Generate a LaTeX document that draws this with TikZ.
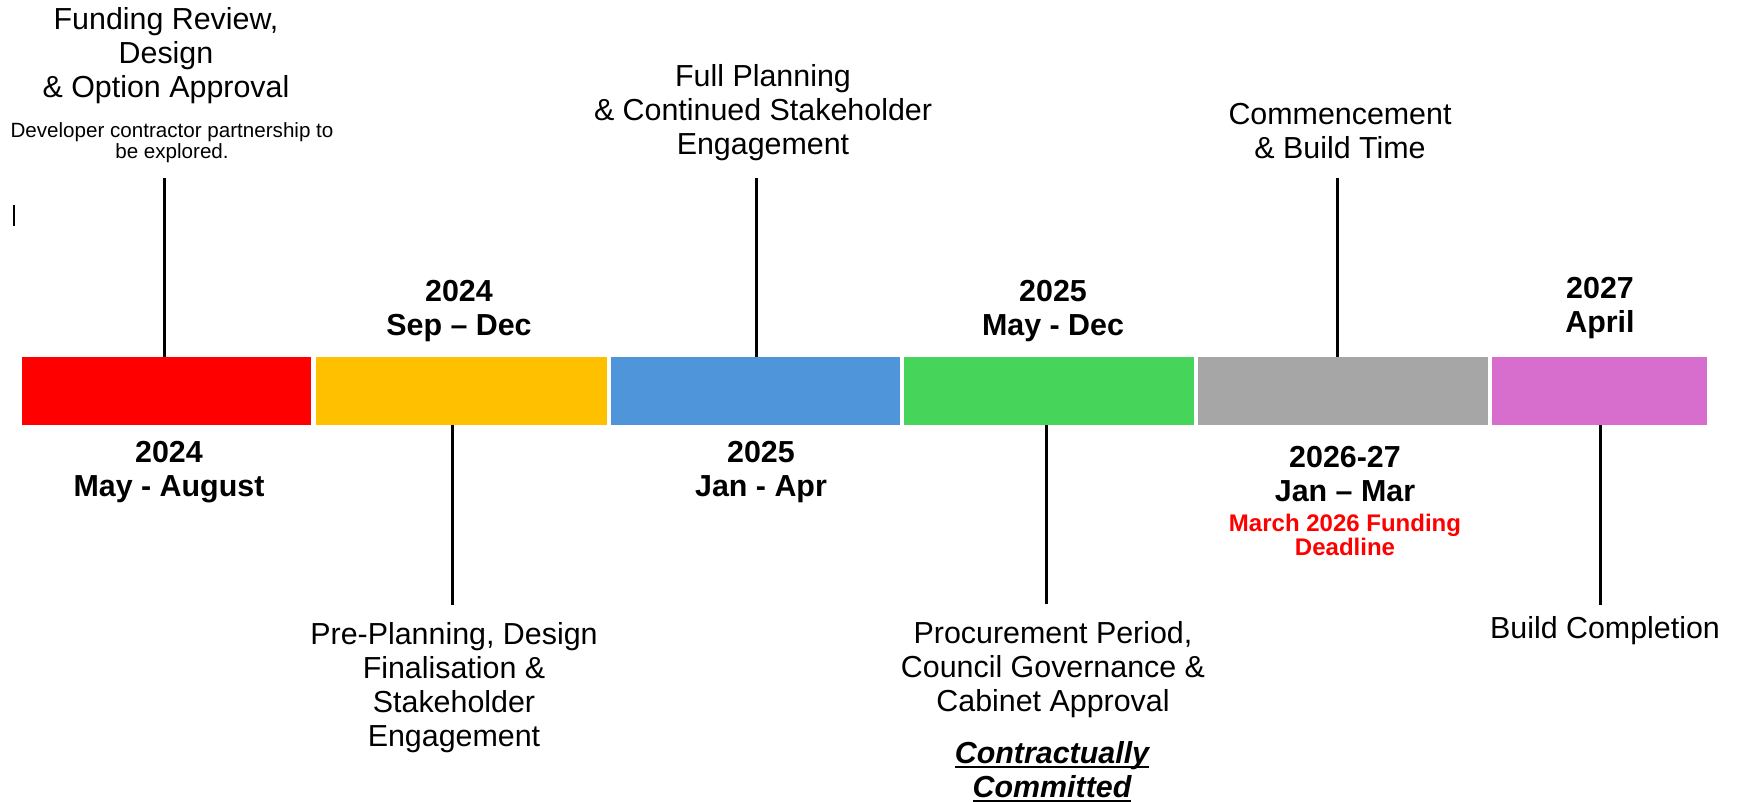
\documentclass[tikz,border=0pt]{standalone}
\usepackage{fontspec}
\setmainfont{Liberation Sans}
\definecolor{cRed}{RGB}{255,0,0}
\definecolor{cYellow}{RGB}{255,192,0}
\definecolor{cBlue}{RGB}{79,149,217}
\definecolor{cGreen}{RGB}{71,212,90}
\definecolor{cGray}{RGB}{166,166,166}
\definecolor{cPink}{RGB}{215,110,205}
\definecolor{cDead}{RGB}{255,0,0}
\newcommand{\ulthick}[1]{\setbox0\hbox{#1}\rlap{\rule[-2.4pt]{\wd0}{1.1pt}}\box0}
\begin{document}
\begin{tikzpicture}[x=0.5pt,y=-0.5pt,
  seg/.style={draw=none,inner sep=0pt,minimum height=34pt},
  conn/.style={line width=1.5pt,black},
  lbl/.style={align=center,inner sep=0pt,font=\fontsize{15.2}{17}\selectfont},
  date/.style={align=center,inner sep=0pt,font=\fontsize{15.2}{17}\selectfont\bfseries},
  small/.style={align=center,inner sep=0pt,font=\fontsize{10.3}{10.5}\selectfont},
  dead/.style={align=center,inner sep=0pt,text=cDead,font=\fontsize{12}{11.8}\selectfont\bfseries}]
\useasboundingbox[fill=white] (0,0) rectangle (1740,802);
% timeline segments
\node[seg,fill=cRed,minimum width=144.5pt]    (s1) at (166.5,391) {};
\node[seg,fill=cYellow,minimum width=145.5pt] (s2) at (461.5,391) {};
\node[seg,fill=cBlue,minimum width=144.5pt]   (s3) at (755.5,391) {};
\node[seg,fill=cGreen,minimum width=145pt]    (s4) at (1049,391) {};
\node[seg,fill=cGray,minimum width=145pt]     (s5) at (1343,391) {};
\node[seg,fill=cPink,minimum width=107.5pt]   (s6) at (1599.5,391) {};
% connectors
\coordinate (t1) at (164,178);
\coordinate (t2) at (452,605);
\coordinate (t3) at (756,178);
\coordinate (t4) at (1046,604);
\coordinate (t5) at (1337,178);
\coordinate (t6) at (1600,605);
\draw[conn] (t1) -- (t1 |- s1.north);
\draw[conn] (t2) -- (t2 |- s2.south);
\draw[conn] (t3) -- (t3 |- s3.north);
\draw[conn] (t4) -- (t4 |- s4.south);
\draw[conn] (t5) -- (t5 |- s5.north);
\draw[conn] (t6) -- (t6 |- s6.south);
% stray mark
\coordinate (m1) at (14,205);
\coordinate (m2) at (14,226);
\draw[line width=0.7pt] (m1) -- (m2);
% top labels
\node[lbl] (a1) at (166,56) {Funding Review,\\Design\\\& Option Approval};
\node[small] (a1b) at (172,143) {Developer contractor partnership to\\be explored.};
\node[lbl] (a3) at (763,113) {Full Planning\\\& Continued Stakeholder\\Engagement};
\node[lbl] (a5) at (1340,131) {Commencement\\\& Build Time};
% dates above
\node[date] (d2) at (459,311) {2024\\Sep -- Dec};
\node[date] (d4) at (1053,311) {2025\\May - Dec};
\node[date] (d6) at (1600,308) {2027\\April};
% dates below
\node[date] (d1) at (169,472) {2024\\May - August};
\node[date] (d3) at (761,472) {2025\\Jan - Apr};
\node[date] (d5) at (1345,474) {2026-27\\Jan -- Mar};
\node[dead] (d5b) at (1345,535) {March 2026 Funding\\Deadline};
% bottom labels
\node[lbl] (b2) at (454,688) {Pre-Planning, Design\\Finalisation \&\\Stakeholder\\Engagement};
\node[lbl] (b4) at (1053,670) {Procurement Period,\\Council Governance \&\\Cabinet Approval};
\node[lbl,font=\fontsize{15.2}{17}\selectfont\bfseries\itshape] (b4b) at (1052,772) {\ulthick{Contractually}\\\ulthick{Committed}};
\node[lbl] (b6) at (1605,631) {Build Completion};
\end{tikzpicture}
\end{document}
